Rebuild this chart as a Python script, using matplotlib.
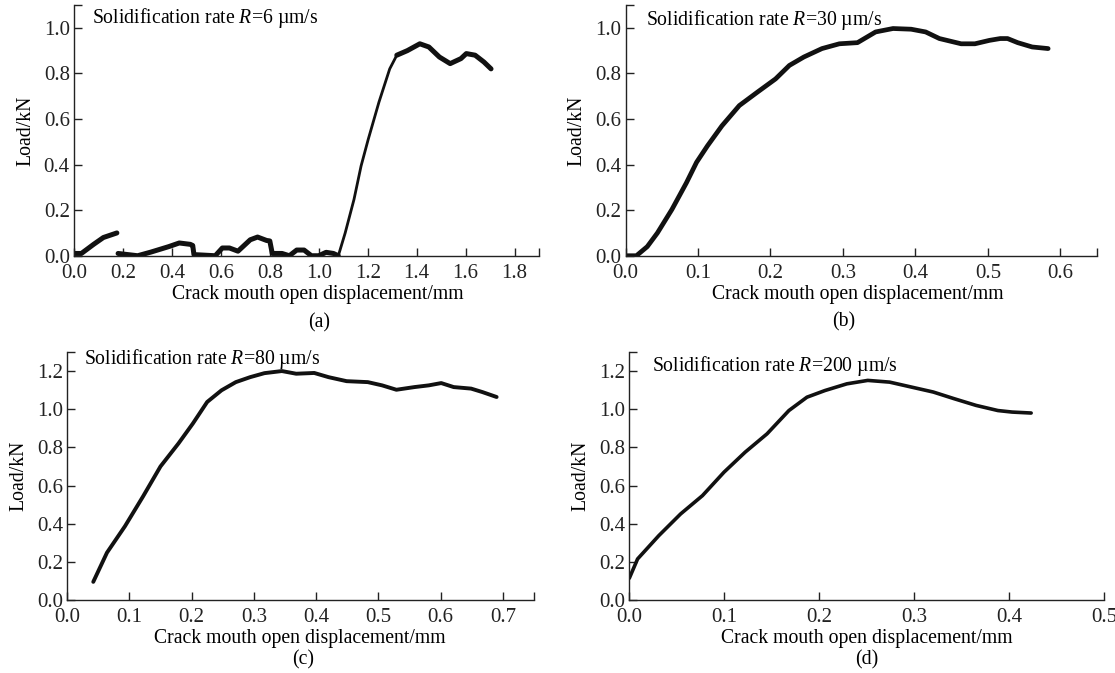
import numpy as np
import matplotlib
matplotlib.use("Agg")
import matplotlib.pyplot as plt

plt.rcParams['font.family'] = ['Liberation Serif', 'DejaVu Serif']
plt.rcParams['mathtext.fontset'] = 'custom'
plt.rcParams['mathtext.rm'] = 'Liberation Serif'
plt.rcParams['mathtext.it'] = 'Liberation Serif:italic'

nan = np.nan

# (a) R = 6 um/s  (nan = gap in the recorded curve)
a_x = [0.0, 0.03, 0.08, 0.12, 0.175, nan, 0.18, 0.22, 0.26, 0.314, 0.387, 0.43, 0.475, 0.485, 0.49,
       0.577, 0.606, 0.635, 0.67, 0.72, 0.75, 0.787, 0.80, 0.81, 0.85, 0.88, 0.91, 0.94, 0.97,
       1.0, 1.03, 1.06, 1.08, 1.108, 1.144, 1.173, 1.202, 1.246, 1.29, 1.319, 1.362, 1.413,
       1.45, 1.493, 1.537, 1.581, 1.603, 1.639, 1.675, 1.704]
a_y = [0.01, 0.01, 0.05, 0.08, 0.10, nan, 0.01, 0.005, 0.0, 0.016, 0.04, 0.056, 0.05, 0.045, 0.005,
       0.0, 0.034, 0.034, 0.02, 0.07, 0.082, 0.067, 0.065, 0.01, 0.01, 0.0, 0.025, 0.025, 0.0,
       0.0, 0.015, 0.01, 0.0, 0.10, 0.247, 0.394, 0.51, 0.674, 0.82, 0.88, 0.90, 0.93,
       0.916, 0.872, 0.843, 0.865, 0.887, 0.88, 0.85, 0.82]

# (b) R = 30 um/s
b_x = [0.0, 0.015, 0.03, 0.044, 0.064, 0.084, 0.098, 0.113, 0.133, 0.157, 0.182, 0.207, 0.226,
       0.246, 0.271, 0.295, 0.32, 0.345, 0.369, 0.394, 0.414, 0.433, 0.463, 0.482, 0.502, 0.517,
       0.527, 0.541, 0.561, 0.583]
b_y = [0.0, 0.0, 0.04, 0.10, 0.203, 0.32, 0.41, 0.482, 0.57, 0.659, 0.718, 0.776, 0.835,
       0.872, 0.909, 0.93, 0.935, 0.982, 0.997, 0.994, 0.982, 0.953, 0.93, 0.93, 0.945, 0.953,
       0.953, 0.935, 0.916, 0.909]

# (c) R = 80 um/s
c_x = [0.042, 0.064, 0.093, 0.122, 0.150, 0.179, 0.202, 0.225, 0.248, 0.271, 0.294, 0.317, 0.345,
       0.368, 0.397, 0.42, 0.449, 0.483, 0.506, 0.529, 0.558, 0.581, 0.601, 0.621, 0.649, 0.667, 0.69]
c_y = [0.095, 0.248, 0.387, 0.543, 0.70, 0.821, 0.925, 1.038, 1.099, 1.142, 1.168, 1.189, 1.2,
       1.186, 1.19, 1.168, 1.147, 1.142, 1.125, 1.102, 1.116, 1.125, 1.137, 1.116, 1.108, 1.09, 1.064]

# (d) R = 200 um/s
d_x = [0.0, 0.0087, 0.031, 0.054, 0.077, 0.0997, 0.122, 0.145, 0.168, 0.187, 0.206, 0.229, 0.251,
       0.274, 0.297, 0.32, 0.342, 0.365, 0.388, 0.403, 0.423]
d_y = [0.114, 0.215, 0.337, 0.451, 0.547, 0.67, 0.775, 0.871, 0.993, 1.063, 1.098, 1.133, 1.151,
       1.142, 1.116, 1.09, 1.055, 1.02, 0.993, 0.985, 0.98]

rates = ["6", "30", "80", "200"]
letters = ["(a)", "(b)", "(c)", "(d)"]

FS = 14.2
TFS = 15

fig = plt.figure(figsize=(11.15, 6.73), dpi=100)

# [left, bottom, width, height] in figure fraction
boxes = [[0.0664, 0.620, 0.417, 0.3725],
         [0.561, 0.620, 0.4226, 0.3725],
         [0.0602, 0.1085, 0.4187, 0.3685],
         [0.5644, 0.1085, 0.426, 0.3685]]

xmax = [1.9, 0.65, 0.75, 0.5]
xstep = [0.2, 0.1, 0.1, 0.1]
ymax = [1.1, 1.1, 1.3, 1.3]
ystep = [0.2, 0.2, 0.2, 0.2]
lws = [3.6, 3.4, 2.8, 2.6]
txt_pos = [(0.038, 0.948), (0.044, 0.94), (0.036, 0.97), (0.048, 0.943)]
lab_y = [(-0.155, -0.267), (-0.155, -0.263), (-0.156, -0.243), (-0.156, -0.243)]
lab_x = [(0.524, 0.528), (0.492, 0.463), (0.499, 0.506), (0.499, 0.499)]

data = [(a_x, a_y), (b_x, b_y), (c_x, c_y), (d_x, d_y)]


def ticks(top, step):
    n = int(np.floor(top / step + 1e-9))
    vals = [round(i * step, 2) for i in range(n + 1)]
    labels = ["%.1f" % v for v in vals]
    if vals[-1] < top - 1e-9:
        vals.append(top)
        labels.append("")
    return vals, labels


for i in range(4):
    ax = fig.add_axes(boxes[i])
    x, y = data[i]
    kw = dict(color='#111111', solid_capstyle='round', solid_joinstyle='round')
    if i == 0:
        # the steep rise in (a) is drawn with a thinner trace
        r0 = a_x.index(1.08)
        r1 = a_x.index(1.319)
        ax.plot(x[:r0 + 1], y[:r0 + 1], lw=lws[i], **kw)
        ax.plot(x[r0:r1 + 1], y[r0:r1 + 1], lw=2.0, **kw)
        ax.plot(x[r1:], y[r1:], lw=lws[i], **kw)
    else:
        ax.plot(x, y, lw=lws[i], **kw)
    ax.set_xlim(0, xmax[i])
    ax.set_ylim(0, ymax[i])
    xv, xl = ticks(xmax[i], xstep[i])
    yv, yl = ticks(ymax[i], ystep[i])
    ax.set_xticks(xv)
    ax.set_xticklabels(xl)
    ax.set_yticks(yv)
    ax.set_yticklabels(yl)
    ax.spines['top'].set_visible(False)
    ax.spines['right'].set_visible(False)
    for s in ['left', 'bottom']:
        ax.spines[s].set_linewidth(1.0)
        ax.spines[s].set_color('#222222')
    ax.tick_params(direction='in', length=6, width=1.0, labelsize=TFS, colors='#222222')
    ax.tick_params(axis='x', pad=6)
    ax.tick_params(axis='y', pad=3)
    ax.set_ylabel("Load/kN", fontsize=FS, labelpad=6)
    ax.text(lab_x[i][0], lab_y[i][0], "Crack mouth open displacement/mm", fontsize=FS,
            transform=ax.transAxes, ha='center', va='center')
    ax.text(lab_x[i][1], lab_y[i][1], letters[i], fontsize=FS,
            transform=ax.transAxes, ha='center', va='center')
    ax.text(txt_pos[i][0], txt_pos[i][1], "Solidification rate $\\it{R}$=%s \u00b5m/s" % rates[i],
            fontsize=FS, transform=ax.transAxes, ha='left', va='center')

fig.savefig("out.png", dpi=100)
